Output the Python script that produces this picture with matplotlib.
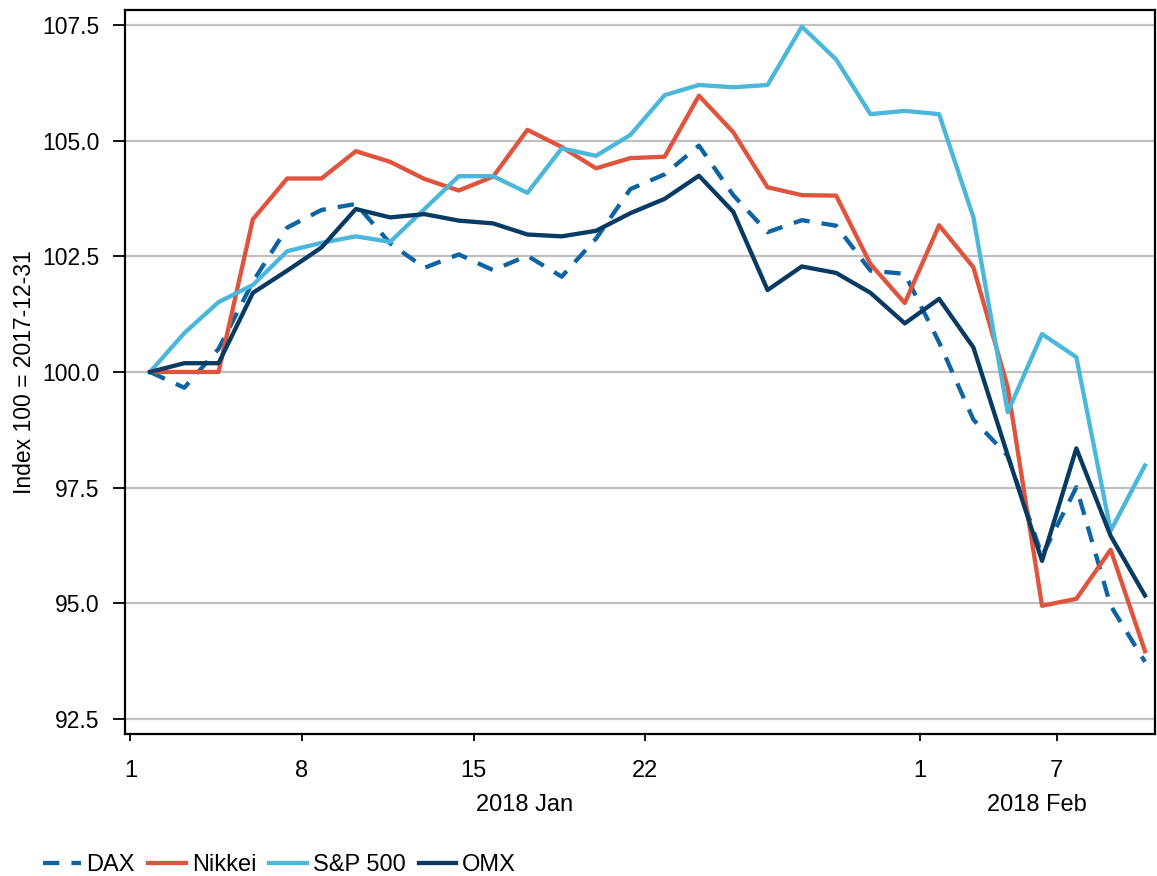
import numpy as np
import pandas as pd
import matplotlib
matplotlib.use("Agg")
import matplotlib.pyplot as plt
import matplotlib.transforms as mtransforms

plt.rcParams['font.family'] = ['Liberation Sans', 'DejaVu Sans']

# business days shown on the axis, Jan 1 .. Feb 9 2018
dates = pd.bdate_range('2018-01-01', '2018-02-09')

dax = [100.0, 99.66, 100.50, 101.95, 103.12, 103.50, 103.63, 102.78, 102.25, 102.54,
       102.20, 102.51, 102.06, 102.88, 103.95, 104.27, 104.89, 103.82, 103.02, 103.28,
       103.16, 102.19, 102.12, 100.64, 98.97, 98.19, 96.03, 97.51, 94.95, 93.74]
nikkei = [100.0, 100.0, 100.0, 103.30, 104.18, 104.18, 104.77, 104.54, 104.17, 103.92,
          104.22, 105.23, 104.86, 104.40, 104.62, 104.65, 105.97, 105.18, 103.99, 103.82,
          103.81, 102.33, 101.49, 103.17, 102.26, 99.67, 94.95, 95.10, 96.16, 93.97]
sp500 = [100.0, 100.84, 101.51, 101.88, 102.61, 102.79, 102.93, 102.81, 103.52, 104.23,
         104.23, 103.87, 104.83, 104.67, 105.12, 105.98, 106.20, 106.15, 106.20, 107.46,
         106.75, 105.57, 105.64, 105.57, 103.34, 99.13, 100.82, 100.32, 96.57, 97.98]
omx = [100.0, 100.19, 100.19, 101.71, 102.19, 102.69, 103.52, 103.34, 103.41, 103.27,
       103.21, 102.97, 102.93, 103.05, 103.43, 103.74, 104.24, 103.46, 101.77, 102.28,
       102.14, 101.71, 101.05, 101.58, 100.53, 98.20, 95.92, 98.35, 96.46, 95.17]

tick_dates = ['2018-01-01', '2018-01-08', '2018-01-15', '2018-01-22', '2018-02-01', '2018-02-07']
tick_labels = ['1', '8', '15', '22', '1', '7']
month_starts = ['2018-01-01', '2018-02-01']
month_labels = ['2018 Jan', '2018 Feb']

colors = {'DAX': '#0e64a3', 'Nikkei': '#e0533c', 'S&P 500': '#4bb7da', 'OMX': '#083b64'}

# data sit a bit after the tick of their date on this axis
shift = 0.568


def pos(d):
    return dates.get_loc(pd.Timestamp(d)) - shift


fig = plt.figure(figsize=(11.57, 8.76), dpi=100)
ax = fig.add_axes([0.108, 0.1621, 0.8902, 0.8265])

x = np.arange(len(dates))
lw = 3.1
ax.plot(x, dax, color=colors['DAX'], lw=lw, dashes=(3.8, 2.8), label='DAX')
ax.plot(x, nikkei, color=colors['Nikkei'], lw=lw, label='Nikkei')
ax.plot(x, sp500, color=colors['S&P 500'], lw=lw, label='S&P 500')
ax.plot(x, omx, color=colors['OMX'], lw=lw, label='OMX')

ax.set_ylim(92.18, 107.82)
ax.set_yticks([92.5, 95.0, 97.5, 100.0, 102.5, 105.0, 107.5])
ax.set_yticklabels(['%.1f' % v for v in ax.get_yticks()])
ax.yaxis.grid(True, color='#c0c0c0', lw=1.6)
ax.set_axisbelow(True)

xlo = -0.729
xhi = 29.29
ax.set_xlim(xlo, xhi)
ax.set_xticks([pos(d) for d in tick_dates])
ax.set_xticklabels(tick_labels)
ax.set_xticks([pos(d) for d in month_starts], minor=True)
ax.tick_params(axis='x', which='major', length=5, width=1.3, pad=13.5, labelsize=17)
ax.tick_params(axis='x', which='minor', length=10.5, width=1.6)
ax.tick_params(axis='y', length=8.5, width=1.3, pad=10, labelsize=16.5)

for s in ax.spines.values():
    s.set_linewidth(1.6)

ax.set_ylabel('Index 100 = 2017-12-31', fontsize=16.5, labelpad=4)

# month labels centred under the visible part of each month
trans = mtransforms.blended_transform_factory(ax.transData, ax.transAxes)
edges = [pos(d) for d in month_starts] + [xhi]
for i, lab in enumerate(month_labels):
    lo = max(edges[i], xlo)
    ax.text((lo + edges[i + 1]) / 2, -0.098, lab, transform=trans,
            ha='center', va='center', fontsize=17)

fig.legend(loc='center left', bbox_to_anchor=(0.0187, 0.0125), ncol=4, frameon=False,
           fontsize=17, handlelength=1.6, handletextpad=0.25, columnspacing=0.55)

fig.savefig('out.png', dpi=100)
